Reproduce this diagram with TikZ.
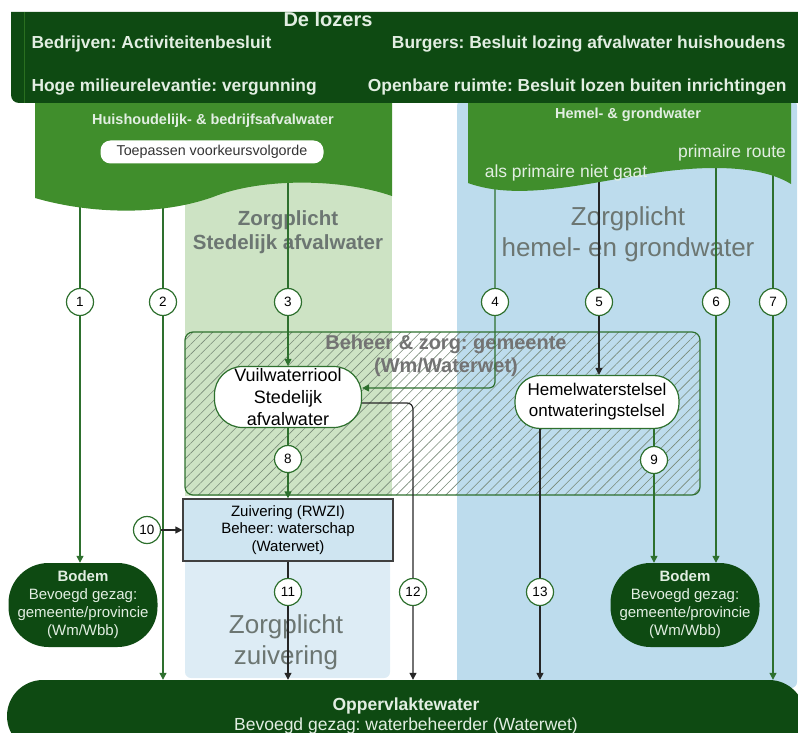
\documentclass[tikz,border=0pt]{standalone}
\usepackage{fontspec}
\setmainfont{Liberation Sans}
\frenchspacing
\usetikzlibrary{arrows.meta,patterns.meta}

\definecolor{lozergroen}{RGB}{14,74,18}
\definecolor{docgroen}{RGB}{64,142,44}
\definecolor{lijngroen}{RGB}{46,112,46}
\definecolor{lichtgroen}{RGB}{205,227,196}
\definecolor{hemelblauw}{RGB}{189,220,237}
\definecolor{zuivblauw}{RGB}{221,236,245}
\definecolor{boxblauw}{RGB}{207,229,241}
\definecolor{tekstgrijs}{RGB}{108,118,114}
\definecolor{lichttekst}{RGB}{226,238,226}
\definecolor{arceer}{RGB}{120,138,120}

\tikzset{
  nummer/.style={circle, draw=lijngroen, line width=1.2pt, fill=white, inner sep=0pt,
    minimum size=27pt, font=\fontsize{13.5}{15}\selectfont},
  groenpijl/.style={draw=lijngroen, line width=1.2pt, -{Triangle[length=7pt,width=7pt]}},
  zwartpijl/.style={draw=black!85, line width=1.2pt, -{Triangle[length=7pt,width=7pt]}},
  stelsel/.style={draw=lijngroen, line width=1.2pt, fill=white, inner sep=0pt, align=center},
  bodem/.style={fill=lozergroen, text=lichttekst, rounded corners=40pt, minimum width=149pt,
    minimum height=84pt, inner sep=0pt, align=center, font=\fontsize{15}{18}\selectfont},
  zorgtekst/.style={text=tekstgrijs, align=center},
  lozertekst/.style={text=lichttekst, font=\bfseries\fontsize{17.4}{20}\selectfont},
}

\begin{document}
\begin{tikzpicture}[x=1pt,y=-1pt]
  \useasboundingbox (0,0) rectangle (798,733);

  % achtergrond vlakken
  \fill[hemelblauw, rounded corners=6pt] (457,100) rectangle (797,688);
  \fill[lichtgroen] (185,150) rectangle (392,496);
  \fill[zuivblauw, rounded corners=6pt] (185,540) rectangle (390,678);

  % zorgplicht teksten
  \node[zorgtekst, font=\bfseries\fontsize{20.5}{24}\selectfont] (zorgstad) at (288,232) {Zorgplicht\\Stedelijk afvalwater};
  \node[zorgtekst, font=\fontsize{26}{31}\selectfont] (zorghemel) at (628,234) {Zorgplicht\\hemel- en grondwater};
  \node[zorgtekst, font=\fontsize{26}{31}\selectfont] (zorgzuiv) at (286,642) {Zorgplicht\\zuivering};

  % beheer gemeente
  \draw[lijngroen, line width=1.2pt, rounded corners=8pt,
    pattern={Lines[angle=45,distance=7pt,line width=0.6pt]}, pattern color=arceer]
    (185,332) rectangle (700,495);
  \node[text=black!55, align=center, font=\bfseries\fontsize{20}{23}\selectfont] (beheer) at (446,356)
    {Beheer \& zorg: gemeente\\(Wm/Waterwet)};

  % stelsels en ontvangers
  \node[stelsel, rounded corners=28pt, minimum width=147pt, minimum height=61pt,
    font=\fontsize{18}{22}\selectfont] (vuil) at (288,397) {Vuilwaterriool\\Stedelijk\\afvalwater};
  \node[stelsel, rounded corners=25pt, minimum width=164pt, minimum height=53pt,
    font=\fontsize{17}{21}\selectfont] (hemel) at (597,402) {Hemelwaterstelsel\\ontwateringstelsel};
  \node[draw=black!75, line width=1.2pt, fill=boxblauw, minimum width=210pt, minimum height=62pt,
    inner sep=0pt, align=center, font=\fontsize{15}{17.5}\selectfont] (zuiv) at (288,530)
    {Zuivering (RWZI)\\Beheer: waterschap\\(Waterwet)};
  \node[bodem] (bodemL) at (83,605) {\textbf{Bodem}\\Bevoegd gezag:\\gemeente/provincie\\(Wm/Wbb)};
  \node[bodem] (bodemR) at (685,605) {\textbf{Bodem}\\Bevoegd gezag:\\gemeente/provincie\\(Wm/Wbb)};
  \node[fill=lozergroen, text=lichttekst, rounded corners=36pt, minimum width=798pt, minimum height=72pt,
    align=center, font=\fontsize{17.5}{20}\selectfont] (opp) at (406,716)
    {\textbf{Oppervlaktewater}\\Bevoegd gezag: waterbeheerder (Waterwet)};

  % genummerde routes
  \foreach \nr/\x/\y in {1/80/302, 2/163/302, 3/288/302, 4/495/302, 5/599/302, 6/716/302, 7/773/302,
      8/288/459, 9/654/460, 10/147/530, 11/288/592, 12/413/592, 13/540/592}
    \node[nummer] (n\nr) at (\x,\y) {\nr};

  \coordinate (s1) at (80,190);
  \coordinate (s2) at (163,190);
  \coordinate (s3) at (288,170);
  \coordinate (s4) at (495,170);
  \coordinate (s5) at (599,170);
  \coordinate (s6) at (716,160);
  \coordinate (s7) at (773,160);
  \coordinate (vuilin) at ([yshift=9pt]vuil.east);
  \coordinate (vuiluit) at ([yshift=-6pt]vuil.east);

  \draw[groenpijl] (s1) -- (n1) -- (n1 |- bodemL.north);
  \draw[groenpijl] (s2) -- (n2) -- (n2 |- opp.north);
  \draw[groenpijl] (s3) -- (n3) -- (n3 |- vuil.north);
  \draw[groenpijl, rounded corners=6pt] (s4) -- (n4) -- (n4 |- vuilin) -- (vuilin);
  \draw[zwartpijl] (s5) -- (n5) -- (n5 |- hemel.north);
  \draw[groenpijl] (s6) -- (n6) -- (n6 |- bodemR.north);
  \draw[groenpijl] (s7) -- (n7) -- (n7 |- opp.north);
  \draw[groenpijl] (vuil.south) -- (n8) -- (n8 |- zuiv.north);
  \draw[groenpijl] (n9 |- hemel.south) -- (n9) -- (n9 |- bodemR.north);
  \draw[zwartpijl] (n10) -- (n10 -| zuiv.west);
  \draw[zwartpijl] (zuiv.south) -- (n11) -- (n11 |- opp.north);
  \draw[zwartpijl, rounded corners=6pt] (vuiluit) -- (vuiluit -| n12) -- (n12) -- (n12 |- opp.north);
  \draw[zwartpijl] (n13 |- hemel.south) -- (n13) -- (n13 |- opp.north);

  % documenten
  \fill[docgroen] (35,100) -- (392,100) -- (392,196) .. controls (340,178) and (260,178) .. (213,197)
    .. controls (160,216) and (90,214) .. (35,198) -- cycle;
  \fill[docgroen] (468,100) -- (791,100) -- (791,184) .. controls (765,168) and (720,164) .. (660,172)
    .. controls (590,182) and (520,202) .. (468,183) -- cycle;
  \node[text=lichttekst, font=\bfseries\fontsize{14.5}{17}\selectfont] (afval) at (213,121) {Huishoudelijk- \& bedrijfsafvalwater};
  \node[fill=white, rounded corners=10pt, minimum width=223pt, minimum height=23pt, inner sep=0pt,
    text=black!80, font=\fontsize{14.3}{16}\selectfont] (voorkeur) at (212,152) {Toepassen voorkeursvolgorde};
  \node[text=lichttekst, font=\bfseries\fontsize{14.5}{17}\selectfont] (hemelgrond) at (628,115) {Hemel- \& grondwater};
  \node[text=lichttekst, font=\fontsize{17.5}{20}\selectfont] (nietgaat) at (566,173) {als primaire niet gaat};
  \node[text=lichttekst, font=\fontsize{17.5}{20}\selectfont] (primair) at (732,153) {primaire route};

  % de lozers
  \fill[lozergroen] (810,12) -- (11,12) [rounded corners=8pt] -- (11,103) -- (810,103) -- cycle;
  \draw[docgroen!55!lozergroen, line width=0.8pt] (24,12) -- (24,103);
  \node[lozertekst, font=\bfseries\fontsize{20}{24}\selectfont, anchor=base] (lozers) at (328,27) {De lozers};
  \node[lozertekst, anchor=base west] (bedrijven) at (28,49) {Bedrijven: Activiteitenbesluit};
  \node[lozertekst, anchor=base east] (burgers) at (789,49) {Burgers: Besluit lozing afvalwater huishoudens};
  \node[lozertekst, anchor=base west] (hoge) at (28,92) {Hoge milieurelevantie: vergunning};
  \node[lozertekst, anchor=base east] (openbaar) at (790,92) {Openbare ruimte: Besluit lozen buiten inrichtingen};
\end{tikzpicture}
\end{document}
